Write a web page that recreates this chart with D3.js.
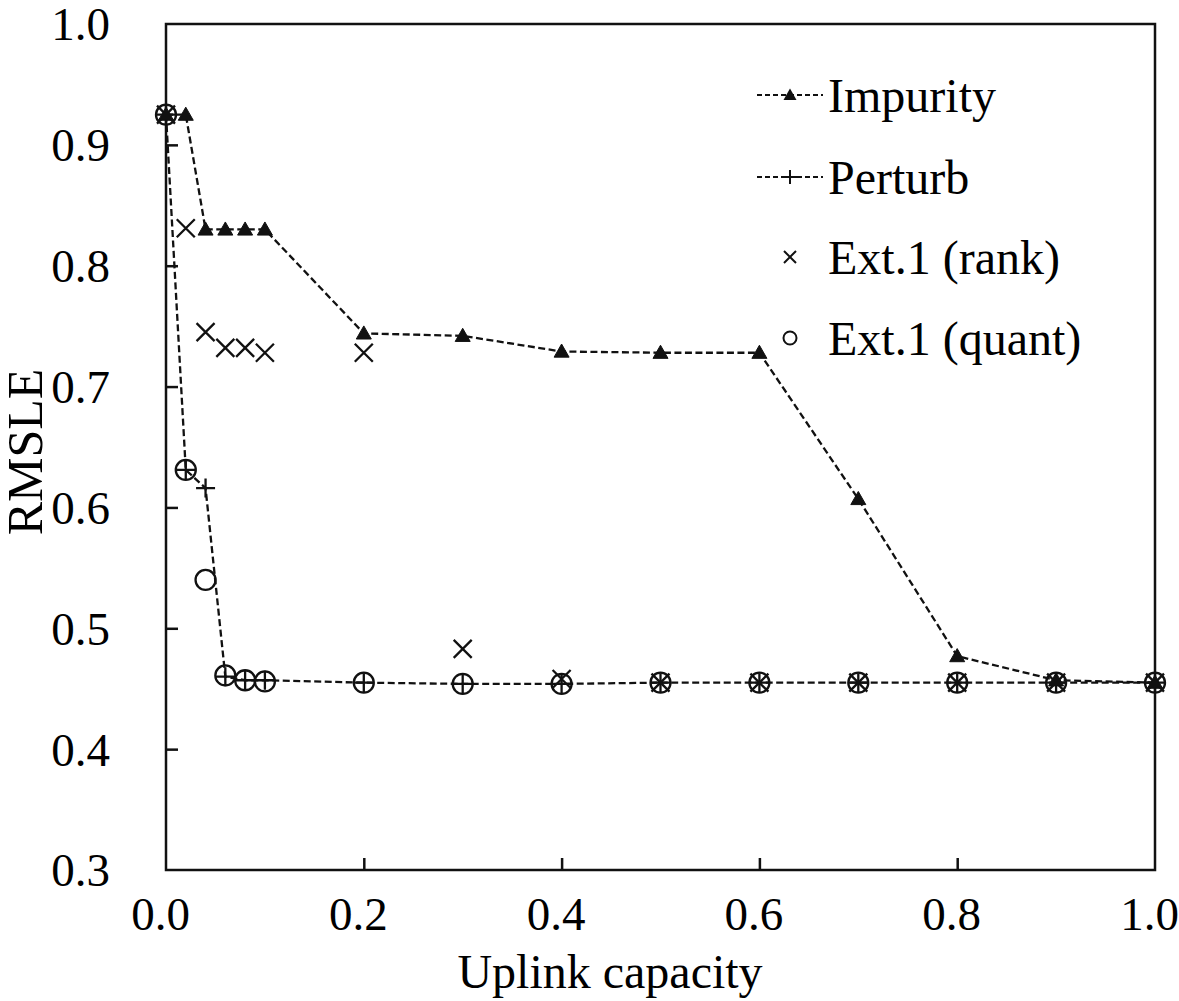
<!DOCTYPE html>
<html>
<head>
<meta charset="utf-8">
<script src="https://cdn.jsdelivr.net/npm/d3@7"></script>
<style>
  html, body { margin: 0; padding: 0; background: #fff; }
  svg { display: block; }
  text { font-family: "Liberation Serif", "DejaVu Serif", serif; fill: #000; }
</style>
</head>
<body>
<svg id="chart" width="1179" height="1001"></svg>
<script>
const capacity = [0, 0.02, 0.04, 0.06, 0.08, 0.1, 0.2, 0.3, 0.4, 0.5, 0.6, 0.7, 0.8, 0.9, 1.0];
const impurity = [0.925, 0.925, 0.830, 0.830, 0.830, 0.830, 0.744, 0.742, 0.729, 0.728, 0.728, 0.607, 0.477, 0.457, 0.455];
const perturb  = [0.925, 0.631, 0.616, 0.460, 0.457, 0.457, 0.455, 0.454, 0.454, 0.455, 0.455, 0.455, 0.455, 0.455, 0.455];
const extRank  = [0.925, 0.831, 0.745, 0.732, 0.732, 0.728, 0.728, 0.483, 0.458, 0.455, 0.455, 0.455, 0.455, 0.455, 0.455];
const extQuant = [0.925, 0.631, 0.540, 0.461, 0.457, 0.456, 0.455, 0.454, 0.454, 0.455, 0.455, 0.455, 0.455, 0.455, 0.455];
const xTickValues = [0, 0.2, 0.4, 0.6, 0.8, 1.0];
const yTickValues = [0.3, 0.4, 0.5, 0.6, 0.7, 0.8, 0.9, 1.0];
const seriesNames = ["Impurity", "Perturb", "Ext.1 (rank)", "Ext.1 (quant)"];
const xTitle = "Uplink capacity";
const yTitle = "RMSLE";

const svg = d3.select("#chart");
const W = 1179, H = 1001;
const L = 166, R = 1155, T = 24, B = 870;

svg.append("rect").attr("width", W).attr("height", H).attr("fill", "#fff");

const x = d3.scaleLinear().domain([0, 1]).range([L, R]);
const y = d3.scaleLinear().domain([0.3, 1.0]).range([B, T]);

// custom symbols
const plusSym = { draw(ctx, size) { const r = Math.sqrt(size) / 2; ctx.moveTo(-r, 0); ctx.lineTo(r, 0); ctx.moveTo(0, -r); ctx.lineTo(0, r); } };
const xSym = { draw(ctx, size) { const r = Math.sqrt(size) / 2; ctx.moveTo(-r, -r); ctx.lineTo(r, r); ctx.moveTo(-r, r); ctx.lineTo(r, -r); } };
const triSym = { draw(ctx, size) { const r = Math.sqrt(size) / 2; ctx.moveTo(0, -r); ctx.lineTo(r, r * 0.75); ctx.lineTo(-r, r * 0.75); ctx.closePath(); } };

// frame
svg.append("rect").attr("x", L).attr("y", T).attr("width", R - L).attr("height", B - T)
  .attr("fill", "none").attr("stroke", "#111").attr("stroke-width", 2.5);

// axes (ticks inward)
const yAxis = d3.axisLeft(y).tickValues(yTickValues).tickSize(-12).tickPadding(68).tickFormat(d3.format(".1f"));
const gy = svg.append("g").attr("transform", `translate(${L},0)`).call(yAxis);
gy.select(".domain").remove();
gy.selectAll(".tick line").attr("stroke", "#111").attr("stroke-width", 2.5)
  .style("display", d => (d === 0.3 || d === 1.0) ? "none" : null);
gy.selectAll(".tick text").attr("font-size", 47).attr("font-family", "Liberation Serif")
  .attr("x", -56).attr("text-anchor", "end").attr("dy", "0.34em");

const xAxis = d3.axisBottom(x).tickValues(xTickValues).tickSize(-12).tickFormat(d3.format(".1f"));
const gx = svg.append("g").attr("transform", `translate(0,${B})`).call(xAxis);
gx.select(".domain").remove();
gx.selectAll(".tick line").attr("stroke", "#111").attr("stroke-width", 2.5)
  .style("display", d => (d === 0 || d === 1.0) ? "none" : null);
gx.selectAll(".tick text").attr("font-size", 47).attr("font-family", "Liberation Serif")
  .attr("y", 60).attr("dy", 0).attr("dx", -6);

// titles
svg.append("text").attr("x", 610).attr("y", 988).attr("text-anchor", "middle")
  .attr("font-size", 48).text(xTitle);
svg.append("text").attr("transform", `translate(42,${(T + B) / 2 + 5}) rotate(-90)`)
  .attr("text-anchor", "middle").attr("font-size", 50).text(yTitle);

const line = d3.line().x(d => x(d[0])).y(d => y(d[1]));
const pts = arr => capacity.map((c, i) => [c, arr[i]]);
const dash = "7,3.5";

// Perturb line + markers
svg.append("path").datum(pts(perturb)).attr("d", line).attr("fill", "none")
  .attr("stroke", "#111").attr("stroke-width", 2.3).attr("stroke-dasharray", dash);
svg.append("g").selectAll("path").data(pts(perturb)).join("path")
  .attr("transform", d => `translate(${x(d[0])},${y(d[1])})`)
  .attr("d", d3.symbol().type(plusSym).size(19 * 19))
  .attr("fill", "none").attr("stroke", "#111").attr("stroke-width", 2.3);

// Ext.1 quant circles
svg.append("g").selectAll("circle").data(pts(extQuant)).join("circle")
  .attr("cx", d => x(d[0])).attr("cy", d => y(d[1])).attr("r", 10)
  .attr("fill", "none").attr("stroke", "#111").attr("stroke-width", 2.3);

// Ext.1 rank crosses
svg.append("g").selectAll("path").data(pts(extRank)).join("path")
  .attr("transform", d => `translate(${x(d[0])},${y(d[1])})`)
  .attr("d", d3.symbol().type(xSym).size(18 * 18))
  .attr("fill", "none").attr("stroke", "#111").attr("stroke-width", 2.3);

// Impurity line + triangles
svg.append("path").datum(pts(impurity)).attr("d", line).attr("fill", "none")
  .attr("stroke", "#111").attr("stroke-width", 2.3).attr("stroke-dasharray", dash);
svg.append("g").selectAll("path").data(pts(impurity)).join("path")
  .attr("transform", d => `translate(${x(d[0])},${y(d[1])})`)
  .attr("d", d3.symbol().type(triSym).size(15 * 15))
  .attr("fill", "#111").attr("stroke", "#111").attr("stroke-width", 1);

// legend
const legY = [95, 177, 257, 338];
const legMarkX = 790, legTextX = 828;
const lg = svg.append("g");
seriesNames.forEach((name, i) => {
  const yy = legY[i];
  if (i < 2) {
    lg.append("line").attr("x1", 757).attr("x2", 823).attr("y1", yy).attr("y2", yy)
      .attr("stroke", "#111").attr("stroke-width", 2).attr("stroke-dasharray", "5,3");
  }
  if (i === 0) {
    lg.append("path").attr("transform", `translate(${legMarkX},${yy})`)
      .attr("d", d3.symbol().type(triSym).size(13 * 13)).attr("fill", "#111");
  } else if (i === 1) {
    lg.append("path").attr("transform", `translate(${legMarkX},${yy})`)
      .attr("d", d3.symbol().type(plusSym).size(14 * 14)).attr("fill", "none")
      .attr("stroke", "#111").attr("stroke-width", 2);
  } else if (i === 2) {
    lg.append("path").attr("transform", `translate(${legMarkX},${yy})`)
      .attr("d", d3.symbol().type(xSym).size(12 * 12)).attr("fill", "none")
      .attr("stroke", "#111").attr("stroke-width", 2);
  } else {
    lg.append("circle").attr("cx", legMarkX).attr("cy", yy).attr("r", 6.5)
      .attr("fill", "none").attr("stroke", "#111").attr("stroke-width", 2);
  }
  lg.append("text").attr("x", legTextX).attr("y", yy).attr("dy", "0.35em")
    .attr("font-size", 48).text(name);
});
</script>
</body>
</html>
